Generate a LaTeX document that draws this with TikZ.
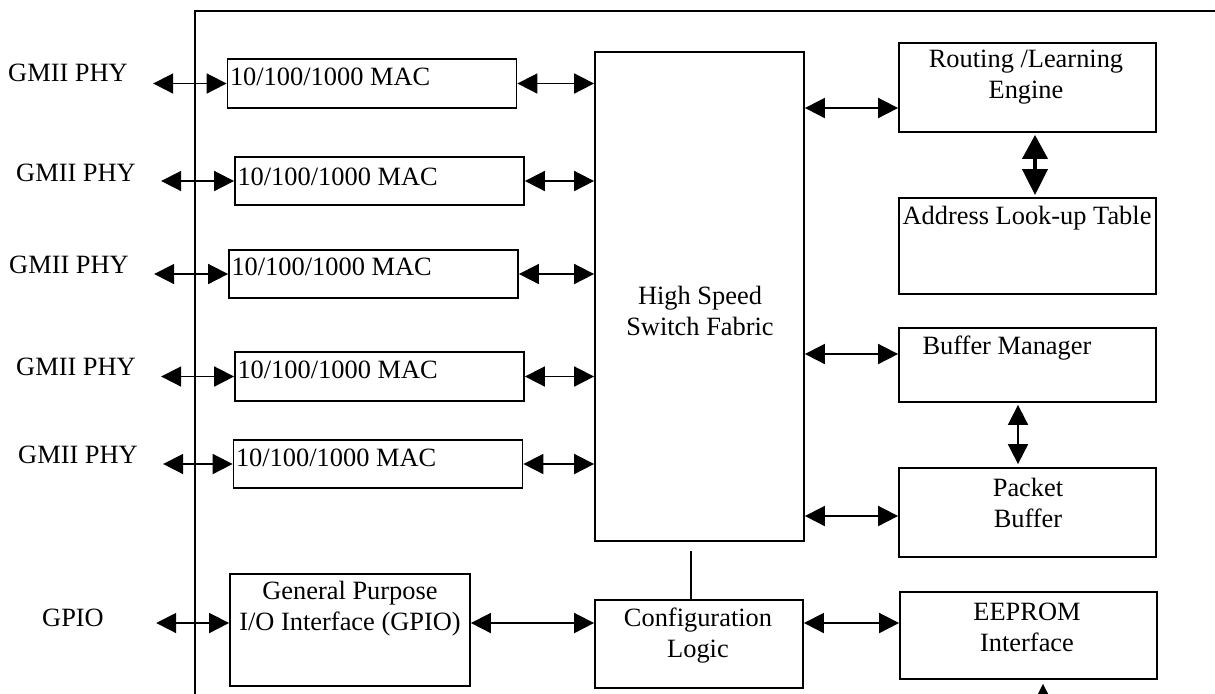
\documentclass[tikz,border=0pt]{standalone}
\usepackage{fontspec}
\setmainfont{Liberation Serif}
\usetikzlibrary{arrows.meta}

\tikzset{
  box/.style={draw, line width=0.9pt, inner sep=0pt},
  mac/.style={box, minimum width=144.5pt, minimum height=24.25pt},
  unit/.style={box, minimum width=128.5pt},
  txt/.style={inner sep=0pt, align=center},
  phy/.style={inner xsep=12.5pt, inner ysep=0pt},
  biarrow/.style={{Triangle[length=10pt,width=10pt]}-{Triangle[length=10pt,width=10pt]}, line width=0.9pt},
  fatarrow/.style={{Triangle[length=12pt,width=12.5pt]}-{Triangle[length=13pt,width=12.5pt]}, line width=2pt},
  uparrow/.style={-{Triangle[length=10pt,width=10pt]}, line width=0.9pt}
}

\begin{document}
\begin{tikzpicture}[x=0.5pt, y=-0.5pt, font=\fontsize{13.2}{15.5}\selectfont]
  \path[use as bounding box, clip] (0,0) rectangle (1215,693);

  % chip outline, only its top and left edges are in view
  \draw[line width=0.9pt] (195,710) -- (195,11) -- (1230,11);

  % MAC ports
  \node[mac] (mac1) at (372,83.5) {};
  \node[mac] (mac2) at (379.5,181) {};
  \node[mac] (mac3) at (373.5,274) {};
  \node[mac] (mac4) at (379.5,376.5) {};
  \node[mac] (mac5) at (378,464) {};
  \node[txt, anchor=west] (mac1-t) at ([xshift=1.5pt,yshift=3.25pt]mac1.west) {10/100/1000 MAC};
  \node[txt, anchor=west] (mac2-t) at ([xshift=1.5pt,yshift=2pt]mac2.west) {10/100/1000 MAC};
  \node[txt, anchor=west] (mac3-t) at ([xshift=1.5pt,yshift=3.5pt]mac3.west) {10/100/1000 MAC};
  \node[txt, anchor=west] (mac4-t) at ([xshift=1.5pt,yshift=3.25pt]mac4.west) {10/100/1000 MAC};
  \node[txt, anchor=west] (mac5-t) at ([xshift=1.5pt,yshift=3pt]mac5.west) {10/100/1000 MAC};

  % outside PHYs
  \node[phy] (phy1) at (68,73) {GMII PHY};
  \node[phy] (phy2) at (76,173) {GMII PHY};
  \node[phy] (phy3) at (69,265) {GMII PHY};
  \node[phy] (phy4) at (76,367) {GMII PHY};
  \node[phy] (phy5) at (78,455) {GMII PHY};
  \node[phy, inner xsep=26pt] (gpiolbl) at (73,618) {GPIO};

  % core blocks
  \node[box, minimum width=104.5pt, minimum height=244.5pt] (fabric) at (699.5,296.5) {};
  \node[box, minimum width=104pt, minimum height=44pt] (config) at (699,644) {};
  \node[box, minimum width=120pt, minimum height=56pt] (gpio) at (350,630) {};
  \node[txt] (fabric-t) at (700,311) {High Speed\\Switch Fabric};
  \node[txt] (config-t) at (698,635.5) {Configuration\\Logic};
  \node[txt] (gpio-t) at (350,609) {General Purpose\\I/O Interface (GPIO)};

  % right hand column
  \node[unit, minimum height=44.5pt] (route) at (1027.5,87.5) {};
  \node[unit, minimum height=48pt] (look) at (1027.5,246) {};
  \node[unit, minimum height=37pt] (buffer) at (1027.5,365) {};
  \node[unit, minimum height=44.5pt] (packet) at (1027.5,512.5) {};
  \node[unit, minimum height=43.5pt] (eeprom) at (1028.5,635.5) {};
  \node[txt] (route-t) at (1026,77) {Routing /Learning\\Engine};
  \node[txt] (look-t) at (1027,218) {Address Look-up Table};
  \node[txt] (buffer-t) at (1007,348) {Buffer Manager};
  \node[txt] (packet-t) at (1028,503) {Packet\\Buffer};
  \node[txt] (eeprom-t) at (1027,627.5) {EEPROM\\Interface};

  % PHY <-> MAC
  \draw[biarrow] (mac1.west -| phy1.east) -- (mac1.west);
  \draw[biarrow] (mac2.west -| phy2.east) -- (mac2.west);
  \draw[biarrow] (mac3.west -| phy3.east) -- (mac3.west);
  \draw[biarrow] (mac4.west -| phy4.east) -- (mac4.west);
  \draw[biarrow] (mac5.west -| phy5.east) -- (mac5.west);

  % MAC <-> fabric
  \draw[biarrow] (mac1.east) -- (mac1.east -| fabric.west);
  \draw[biarrow] (mac2.east) -- (mac2.east -| fabric.west);
  \draw[biarrow] (mac3.east) -- (mac3.east -| fabric.west);
  \draw[biarrow] (mac4.east) -- (mac4.east -| fabric.west);
  \draw[biarrow] (mac5.east) -- (mac5.east -| fabric.west);

  % fabric <-> right hand column
  \coordinate (route-in) at ([yshift=-10.25pt]route.west);
  \coordinate (buffer-in) at ([yshift=5.5pt]buffer.west);
  \coordinate (packet-in) at ([yshift=-1.75pt]packet.west);
  \draw[biarrow] (fabric.east |- route-in) -- (route-in);
  \draw[biarrow] (fabric.east |- buffer-in) -- (buffer-in);
  \draw[biarrow] (fabric.east |- packet-in) -- (packet-in);

  % inside the right hand column
  \coordinate (look-in) at ([xshift=3.75pt]look.north);
  \coordinate (packet-top) at ([xshift=-4.75pt]packet.north);
  \draw[fatarrow, shorten <=1pt, shorten >=1pt] (look-in |- route.south) -- (look-in);
  \draw[biarrow, shorten <=1pt, shorten >=1.5pt] (packet-top |- buffer.south) -- (packet-top);

  % GPIO, configuration and EEPROM
  \coordinate (gpio-out) at ([yshift=3.5pt]gpio.east);
  \coordinate (eeprom-in) at ([yshift=6.25pt]eeprom.west);
  \draw[biarrow] (gpio-out -| gpiolbl.east) -- (gpio-out -| gpio.west);
  \draw[biarrow] (gpio-out) -- (gpio-out -| config.west);
  \draw[biarrow] (config.east |- eeprom-in) -- (eeprom-in);
  \coordinate (cfg-top) at ([xshift=-4pt]config.north);
  \draw[line width=0.9pt, shorten >=4.5pt] (cfg-top) -- (cfg-top |- fabric.south);
  \coordinate (eeprom-bot) at ([xshift=7.25pt]eeprom.south);
  \coordinate (eeprom-src) at ([yshift=-20pt]eeprom-bot);
  \draw[uparrow, shorten >=2pt] (eeprom-src) -- (eeprom-bot);
\end{tikzpicture}
\end{document}
